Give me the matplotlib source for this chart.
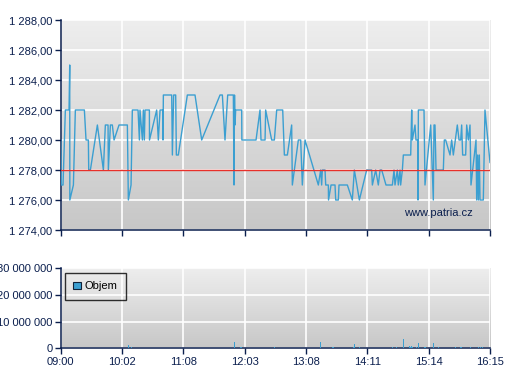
import numpy as np
import matplotlib
matplotlib.use("Agg")
import matplotlib.pyplot as plt
from matplotlib.colors import LinearSegmentedColormap
from matplotlib.patches import Patch

# ---------------- data ----------------
time_labels = ["09:00", "10:02", "11:08", "12:03", "13:08", "14:11", "15:14", "16:15"]

# x = session position in tick-interval units (0 = 09:00 ... 7 = 16:15)
price_x = [0.000, 0.011, 0.038, 0.076, 0.136, 0.147, 0.149, 0.207, 0.239, 0.386,
           0.413, 0.451, 0.457, 0.484, 0.598, 0.696, 0.728, 0.772, 0.777, 0.810,
           0.842, 0.870, 0.951, 1.087, 1.103, 1.147, 1.168, 1.261, 1.283, 1.293,
           1.332, 1.348, 1.364, 1.375, 1.446, 1.448, 1.565, 1.592, 1.620, 1.663,
           1.668, 1.674, 1.810, 1.821, 1.842, 1.875, 1.886, 1.918, 2.065, 2.190,
           2.299, 2.598, 2.636, 2.679, 2.723, 2.815, 2.826, 2.834, 2.842, 2.853,
           2.951, 2.954, 3.185, 3.250, 3.266, 3.332, 3.342, 3.440, 3.484, 3.522,
           3.620, 3.647, 3.696, 3.766, 3.777, 3.875, 3.913, 3.940, 3.984, 4.201,
           4.239, 4.255, 4.266, 4.310, 4.321, 4.364, 4.367, 4.408, 4.473, 4.484,
           4.527, 4.538, 4.674, 4.755, 4.788, 4.870, 4.989, 5.071, 5.082, 5.136,
           5.179, 5.207, 5.234, 5.304, 5.408, 5.435, 5.451, 5.489, 5.505, 5.533,
           5.543, 5.571, 5.587, 5.707, 5.723, 5.734, 5.777, 5.793, 5.821, 5.826,
           5.832, 5.924, 5.940, 6.033, 6.076, 6.087, 6.103, 6.120, 6.239, 6.255,
           6.277, 6.348, 6.375, 6.402, 6.467, 6.495, 6.522, 6.538, 6.554, 6.603,
           6.620, 6.647, 6.674, 6.690, 6.717, 6.772, 6.783, 6.799, 6.810, 6.826,
           6.837, 6.891, 6.918, 7.000]
price_y = [1280, 1277, 1277, 1282, 1282, 1285, 1276, 1277, 1282, 1282,
           1280, 1280, 1278, 1278, 1281, 1278, 1281, 1281, 1278, 1281,
           1281, 1280, 1281, 1281, 1276, 1277, 1282, 1282, 1280, 1282,
           1280, 1282, 1280, 1282, 1282, 1280, 1282, 1280, 1282, 1282,
           1280, 1283, 1283, 1279, 1283, 1283, 1279, 1279, 1283, 1283,
           1280, 1283, 1283, 1280, 1283, 1283, 1277, 1283, 1281, 1282,
           1282, 1280, 1280, 1282, 1280, 1280, 1282, 1280, 1280, 1282,
           1282, 1279, 1279, 1281, 1277, 1280, 1280, 1277, 1280, 1277,
           1278, 1277, 1278, 1278, 1277, 1277, 1276, 1277, 1277, 1276,
           1276, 1277, 1277, 1276, 1278, 1276, 1278, 1278, 1277, 1278,
           1277, 1278, 1278, 1277, 1277, 1278, 1277, 1278, 1277, 1278,
           1277, 1278, 1279, 1279, 1282, 1280, 1281, 1280, 1280, 1276,
           1282, 1282, 1277, 1281, 1276, 1281, 1281, 1278, 1278, 1280,
           1280, 1279, 1280, 1279, 1281, 1280, 1280, 1281, 1279, 1279,
           1281, 1280, 1281, 1277, 1278, 1280, 1276, 1279, 1276, 1279,
           1276, 1276, 1282, 1278.5]
ref_price = 1278

vol_x = [0.00, 1.10, 1.15, 2.83, 2.94, 3.48, 4.23, 4.44, 4.78, 4.79,
         4.87, 5.41, 5.47, 5.59, 5.68, 5.70, 5.72, 5.73, 5.80, 5.83,
         5.94, 6.08, 6.16, 6.43, 6.52, 6.54, 6.68, 6.81, 6.84, 6.87]
vol_y = [400000, 1250000, 400000, 2400000, 500000, 500000, 2400000, 500000, 500000, 1600000,
         500000, 500000, 500000, 3500000, 900000, 500000, 900000, 500000, 500000, 2000000,
         500000, 2000000, 500000, 500000, 500000, 500000, 500000, 500000, 500000, 500000]

price_ticks = [1274, 1276, 1278, 1280, 1282, 1284, 1286, 1288]
vol_ticks = [0, 10000000, 20000000, 30000000]

# ---------------- style ----------------
NAVY = "#0b1f4e"
LINE = "#3b9fd1"
plt.rcParams["font.family"] = ["Liberation Sans", "DejaVu Sans"]
plt.rcParams["font.size"] = 8

W, H = 507, 380
fig = plt.figure(figsize=(W / 100, H / 100), dpi=100, facecolor="white")

def px_axes(left, top, right, bottom):
    return fig.add_axes([left / W, 1 - bottom / H, (right - left) / W, (bottom - top) / H])

ax1 = px_axes(60.7, 20, 490, 230)
ax2 = px_axes(60.7, 268.3, 490, 348.3)

cmap = LinearSegmentedColormap.from_list("bg", ["#c7c7c7", "#eeeeee"])
grad = np.linspace(0, 1, 256).reshape(-1, 1)

def style(ax):
    ax.imshow(grad, extent=[0, 1, 0, 1], transform=ax.transAxes, cmap=cmap,
              aspect="auto", origin="lower", zorder=-10, interpolation="bilinear")
    ax.set_facecolor("#dddddd")
    for s in ["top", "right"]:
        ax.spines[s].set_visible(False)
    for s in ["left", "bottom"]:
        ax.spines[s].set_color(NAVY)
        ax.spines[s].set_linewidth(1.1)
    ax.grid(True, color="white", linewidth=1.2)
    ax.set_axisbelow(True)
    ax.tick_params(axis="both", direction="out", length=4, width=1.0,
                   color=NAVY, labelcolor=NAVY, labelsize=8, pad=2)
    ax.set_xticks(range(len(time_labels)))
    ax.set_xlim(0, len(time_labels) - 1)

style(ax1)
style(ax2)

# price panel
ax1.plot(price_x, price_y, color=LINE, linewidth=1.0, zorder=3)
ax1.axhline(ref_price, color="#e8302a", linewidth=1.0, zorder=4)
ax1.set_ylim(price_ticks[0], price_ticks[-1])
ax1.set_yticks(price_ticks)
ax1.set_yticklabels([f"{v:,.2f}".replace(",", " ").replace(".", ",") for v in price_ticks])
ax1.set_xticklabels([])
ax1.text(0.960, 0.081, "www.patria.cz", transform=ax1.transAxes, ha="right",
         va="center", color=NAVY, fontsize=8, zorder=5)

# volume panel
ax2.bar(vol_x, vol_y, width=0.017, color=LINE, linewidth=0, zorder=3, label="Objem")
ax2.set_ylim(vol_ticks[0], vol_ticks[-1])
ax2.set_yticks(vol_ticks)
ax2.set_yticklabels([f"{v:,.0f}".replace(",", " ") for v in vol_ticks])
ax2.set_xticklabels(time_labels)

handle = Patch(facecolor=LINE, edgecolor="#10223a", linewidth=0.8, label="Objem")
leg = ax2.legend(handles=[handle], loc="upper left", bbox_to_anchor=(0.01, 0.94),
                 borderaxespad=0, frameon=True, fancybox=False, handlelength=0.65,
                 handleheight=0.65, handletextpad=0.35, borderpad=0.75, fontsize=8)
leg.get_frame().set_edgecolor("black")
leg.get_frame().set_facecolor("none")
leg.get_frame().set_linewidth(1.0)
for t in leg.get_texts():
    t.set_color("black")

fig.savefig("out.png", dpi=100, facecolor="white")
